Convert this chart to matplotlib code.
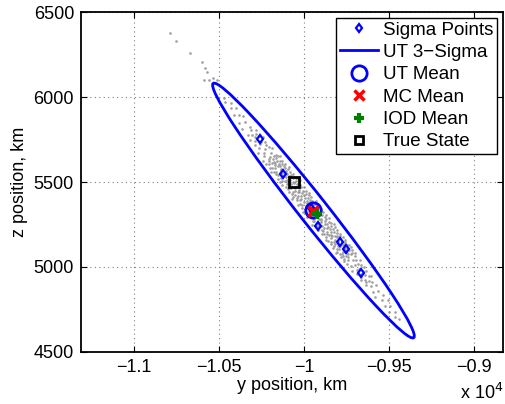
import numpy as np
import matplotlib
matplotlib.use("Agg")
import matplotlib.pyplot as plt
from matplotlib.patches import Ellipse
from matplotlib.lines import Line2D
from matplotlib.ticker import FuncFormatter

plt.rcParams['font.family'] = ['Liberation Sans', 'DejaVu Sans']

# --- data (km) ---
# UT 3-sigma ellipse: centre, semi-axes, orientation of the major axis
ellipse_center = (-9944, 5332)
ellipse_semi_major = 953
ellipse_semi_minor = 82
ellipse_angle_deg = -51.75

# sigma points (y, z)
sigma_y = [-10259, -10124, -9959, -9944, -9918, -9788, -9753, -9665]
sigma_z = [5753, 5547, 5347, 5332, 5241, 5147, 5106, 4965]

ut_mean = (-9947, 5335)
mc_mean = (-9947, 5329)
iod_mean = (-9924, 5312)
true_state = (-10059, 5500)

# Monte Carlo samples, read as (along-axis, cross-axis) offsets in km from the MC mean
mc_top = [(-845, 3), (-822, -10), (-800, 14), (-778, -4), (-756, 20), (-735, -15),
          (-714, 6), (-694, 24), (-675, -20), (-656, 10), (-638, -27), (-618, 17)]
mc_upper = [(-598, 8), (-590, -22), (-582, 30), (-574, -6), (-566, 17), (-558, -35),
            (-550, 2), (-542, 26), (-534, -15), (-526, 38), (-518, -28), (-510, 11),
            (-502, -3), (-494, 33), (-486, -19), (-478, 22), (-470, -40), (-462, 6),
            (-454, 29), (-446, -12), (-438, 41), (-430, -25), (-422, 15), (-414, -45),
            (-406, 0)]
mc_core = [
    (-400, -12), (-395, 34), (-391, -47), (-386, 5), (-381, 22), (-377, -30), (-372, 48), (-367, -3), (-362, 17), (-358, -41),
    (-353, 28), (-348, -8), (-344, 39), (-339, -19), (-334, 2), (-330, -52), (-325, 13), (-320, 44), (-316, -25), (-311, 9),
    (-306, -36), (-302, 31), (-297, -15), (-292, 51), (-287, -6), (-283, 24), (-278, -44), (-273, 11), (-269, -28), (-264, 37),
    (-259, -1), (-255, -33), (-250, 19), (-245, 46), (-240, -21), (-236, 7), (-231, -49), (-226, 27), (-222, -10), (-217, 41),
    (-212, -38), (-208, 15), (-203, -4), (-198, 32), (-193, -26), (-189, 53), (-184, -16), (-179, 3), (-175, -43), (-170, 21),
    (-165, 36), (-161, -9), (-156, -31), (-151, 12), (-146, 45), (-142, -23), (-137, 6), (-132, -50), (-128, 29), (-123, -13),
    (-118, 38), (-114, -2), (-109, -35), (-104, 18), (-99, 49), (-95, -20), (-90, 10), (-85, -46), (-81, 25), (-76, -7),
    (-71, 42), (-67, -29), (-62, 1), (-57, -39), (-52, 16), (-48, 33), (-43, -18), (-38, 52), (-34, -11), (-29, 23),
    (-24, -42), (-20, 8), (-15, 40), (-10, -24), (-5, -5), (-1, 30), (4, -48), (9, 14), (13, -34), (18, 47),
    (23, -14), (27, 20), (32, -27), (37, 4), (42, 43), (46, -37), (51, 26), (56, -1), (60, -53), (65, 11),
    (70, 35), (74, -17), (79, -4), (84, 28), (89, -32), (93, 50), (98, -22), (103, 9), (107, -45), (112, 19),
    (117, -8), (121, 39), (126, -27), (131, 2), (136, 31), (140, -40), (145, 15), (150, -12), (154, 44), (159, -19),
    (164, 6), (168, -36), (173, 24), (178, -3), (183, -47), (187, 33), (192, -15), (197, 10), (201, 41), (206, -30),
    (211, 17), (215, -6), (220, -38), (225, 27), (230, 46), (234, -21), (239, 3), (244, -44), (248, 22), (253, -9),
    (258, 37), (262, -28), (267, 12), (272, -16), (277, -49), (281, 30), (286, -2), (291, 43), (295, -33), (300, 8),
    (305, -20), (309, 25), (314, -41), (319, 5), (324, 36), (328, -11), (333, -29), (338, 18), (342, -4), (347, 40),
]
# second pass over the dense core (samples lying between the ones above)
mc_core_b = [
    (-398, 20), (-389, -22), (-379, 40), (-369, -14), (-360, 3), (-351, -33), (-342, 14), (-332, 27), (-323, -40), (-314, 33),
    (-304, 3), (-295, -27), (-285, 41), (-276, -11), (-266, 18), (-257, -46), (-248, 30), (-238, -7), (-229, 8), (-219, -25),
    (-210, 44), (-201, 13), (-191, -37), (-182, 26), (-172, -2), (-163, -21), (-154, 34), (-144, 0), (-135, -41), (-125, 16),
    (-116, -26), (-107, 29), (-97, -10), (-88, 40), (-79, -33), (-69, 12), (-60, 27), (-50, -15), (-41, 6), (-31, -48),
    (-22, 35), (-13, -8), (-3, 20), (6, -36), (16, 0), (25, 37), (35, -19), (44, 15), (53, -31), (63, 46),
    (72, 4), (82, -42), (91, 22), (100, -11), (110, 33), (119, -25), (128, 10), (138, 49), (147, -34), (157, 28),
    (166, -14), (175, 40), (185, -1), (194, -43), (204, 20), (213, 34), (222, -17), (232, 8), (241, -30), (251, 42),
    (260, -4), (269, 24), (279, -38), (288, 14), (298, -13), (307, 44), (316, -26), (326, 3), (335, 28), (345, -36),
]
mc_lower = [(354, -16), (361, 29), (368, -34), (375, 7), (382, 21), (389, -25), (396, 38),
            (403, -6), (410, 13), (417, -38), (424, 26), (431, -12), (438, 2), (445, 33),
            (452, -28), (459, 15), (466, -4), (473, 28), (480, -20), (487, 9), (494, -33),
            (501, 22), (508, -9), (515, 31), (522, -17), (529, 4), (536, -26), (543, 18)]
mc_bottom = [(555, -5), (572, 20), (590, -18), (607, 8), (625, -25), (644, 14), (662, -2),
             (681, 22), (700, -12), (720, 6), (741, -16), (763, 10), (788, -4), (815, 5)]
# stray samples outside the ellipse (y, z)
mc_trail_y = [-10790, -10750, -10670, -10600, -10580, -10570, -10590, -10560, -10535, -10510]
mc_trail_z = [6376, 6329, 6259, 6206, 6171, 6147, 6100, 6100, 6112, 6100]

# --- convert MC offsets to (y, z) ---
offsets = np.array(mc_top + mc_upper + mc_core + mc_core_b + mc_lower + mc_bottom, dtype=float)
th = np.deg2rad(ellipse_angle_deg)
u_along = np.array([np.cos(th), np.sin(th)])
u_cross = np.array([-np.sin(th), np.cos(th)])
mc_pts = np.array(mc_mean) + offsets[:, :1] * u_along + offsets[:, 1:] * u_cross
mc_y = np.concatenate([mc_pts[:, 0], mc_trail_y])
mc_z = np.concatenate([mc_pts[:, 1], mc_trail_z])

fig = plt.figure(figsize=(5.06, 4.04), dpi=100)
ax = fig.add_axes([0.160, 0.129, 0.834, 0.841])

ax.plot(mc_y, mc_z, '.', color='#a0a0a0', markersize=3.8, markeredgewidth=0, zorder=1)
ax.add_patch(Ellipse(ellipse_center, 2 * ellipse_semi_major, 2 * ellipse_semi_minor,
                     angle=ellipse_angle_deg, fill=False, edgecolor='#0000ff', lw=2, zorder=2))
ax.plot(sigma_y, sigma_z, 'd', mfc='none', mec='#0000ff', ms=4.5, mew=1.6, zorder=3)
ax.plot(*ut_mean, 'o', mfc='none', mec='#0000ff', ms=11, mew=2, zorder=4)
ax.plot(*mc_mean, 'x', color='#ff0000', ms=7, mew=2.5, zorder=5)
ax.plot(*iod_mean, '+', color='#008000', ms=7, mew=3, zorder=6)
ax.plot(*true_state, 's', mfc='none', mec='black', ms=7, mew=2, zorder=7)

ax.set_xlim(-11312, -8829)
ax.set_ylim(4500, 6500)
ax.set_xticks([-11000, -10500, -10000, -9500, -9000])
ax.set_yticks([4500, 5000, 5500, 6000, 6500])
ax.xaxis.set_major_formatter(FuncFormatter(lambda v, p: ('%g' % (v / 1e4)).replace('-', '\u2212')))
ax.tick_params(direction='in', top=True, right=True, length=4, labelsize=13, width=0.8, pad=5)
ax.grid(True, linestyle=(0, (1, 3)), color='#808080', lw=0.8)
for s in ax.spines.values():
    s.set_linewidth(1.3)

ax.set_xlabel('y position, km', fontsize=13, labelpad=1)
ax.set_ylabel('z position, km', fontsize=13, labelpad=4)
fig.text(0.994, 0.002, 'x 10$^{4}$', ha='right', va='bottom', fontsize=13)

handles = [
    Line2D([], [], ls='none', marker='d', mfc='none', mec='#0000ff', ms=4.5, mew=1.6),
    Line2D([], [], color='#0000ff', lw=2),
    Line2D([], [], ls='none', marker='o', mfc='none', mec='#0000ff', ms=11, mew=2),
    Line2D([], [], ls='none', marker='x', color='#ff0000', ms=7, mew=2.5),
    Line2D([], [], ls='none', marker='+', color='#008000', ms=7, mew=3),
    Line2D([], [], ls='none', marker='s', mfc='none', mec='black', ms=6, mew=2),
]
labels = ['Sigma Points', 'UT 3\u2212Sigma', 'UT Mean', 'MC Mean', 'IOD Mean', 'True State']
leg = ax.legend(handles, labels, loc='upper right', fontsize=13.5, fancybox=False,
                edgecolor='black', framealpha=1, borderaxespad=0.3, handlelength=2.0,
                handletextpad=0.3, labelspacing=0.28, borderpad=0.2)
leg.get_frame().set_linewidth(1.0)

fig.savefig('out.png', dpi=100)
